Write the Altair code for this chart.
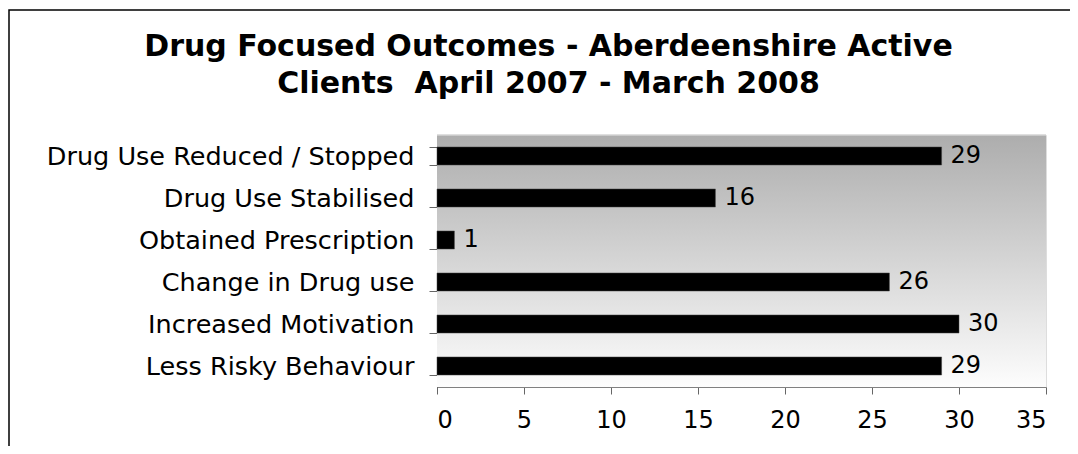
import altair as alt
import pandas as pd

categories = [
    "Drug Use Reduced / Stopped\u00a0",
    "Drug Use Stabilised",
    "Obtained Prescription",
    "Change in Drug use",
    "Increased Motivation",
    "Less Risky Behaviour",
]
values = [29, 16, 1, 26, 30, 29]
x_ticks = [0, 5, 10, 15, 20, 25, 30, 35]
title_lines = ["Drug Focused Outcomes - Aberdeenshire Active", "Clients\u00a0 April 2007 - March 2008"]

df = pd.DataFrame({"cat": categories, "val": values})

FONT = "DejaVu Sans"
W, H = 609, 252

yenc = alt.Y(
    "cat:N",
    sort=categories,
    title=None,
    scale=alt.Scale(paddingInner=0.57, paddingOuter=0.285),
    axis=alt.Axis(
        tickBand="extent",
        tickSize=8,
        tickColor="#666666",
        domainColor="#444444",
        labelFontSize=25.5,
        labelFont=FONT,
        labelColor="black",
        labelPadding=15,
        labelLimit=0,
        grid=False,
    ),
)
xenc = alt.X(
    "val:Q",
    title=None,
    scale=alt.Scale(domain=[0, 35], nice=False),
    axis=alt.Axis(
        values=x_ticks,
        tickSize=7,
        tickColor="#666666",
        domainColor="#808080",
        labelFontSize=24,
        labelFont=FONT,
        labelColor="black",
        labelPadding=14,
        grid=False,
    ),
)

one = alt.Data(values=[{}])

bg = alt.Chart(one).mark_rect(
    color=alt.LinearGradient(
        gradient="linear",
        stops=[alt.GradientStop(color="#adadad", offset=0), alt.GradientStop(color="#fdfdfd", offset=1)],
        x1=0, x2=0, y1=0, y2=1,
    )
).encode(x=alt.value(0), x2=alt.value("width"), y=alt.value(0), y2=alt.value("height"))

topline = alt.Chart(one).mark_rule(color="#d4d4d4", strokeWidth=1.5).encode(
    x=alt.value(0), x2=alt.value("width"), y=alt.value(0)
)

frame = alt.Chart(one).mark_rect(fillOpacity=0, stroke="black", strokeWidth=1.5).encode(
    x=alt.value(-428), x2=alt.value(700), y=alt.value(-125), y2=alt.value(400)
)

bars = alt.Chart(df).mark_bar(color="black", stroke="#444444", strokeWidth=0.5).encode(x=xenc, y=yenc)

labels = alt.Chart(df).mark_text(
    align="left", baseline="middle", dx=9, fontSize=24, font=FONT, color="black"
).encode(x="val:Q", y=alt.Y("cat:N", sort=categories), text="val:Q")

chart = (
    alt.layer(bg, topline, bars, labels, frame)
    .properties(
        width=W,
        height=H,
        title=alt.TitleParams(
            text=title_lines,
            font=FONT,
            fontSize=30,
            fontWeight="bold",
            color="black",
            anchor="middle",
            frame="group",
            dx=-193,
            dy=90,
            offset=0,
            lineHeight=37,
        ),
        autosize=alt.AutoSizeParams(type="none"),
        padding={"left": 429, "top": 127, "right": 24, "bottom": 59},
    )
    .configure_view(stroke=None)
    .configure(background="white")
)

chart.save("out.html", embed_options={"renderer": "svg", "actions": False})
